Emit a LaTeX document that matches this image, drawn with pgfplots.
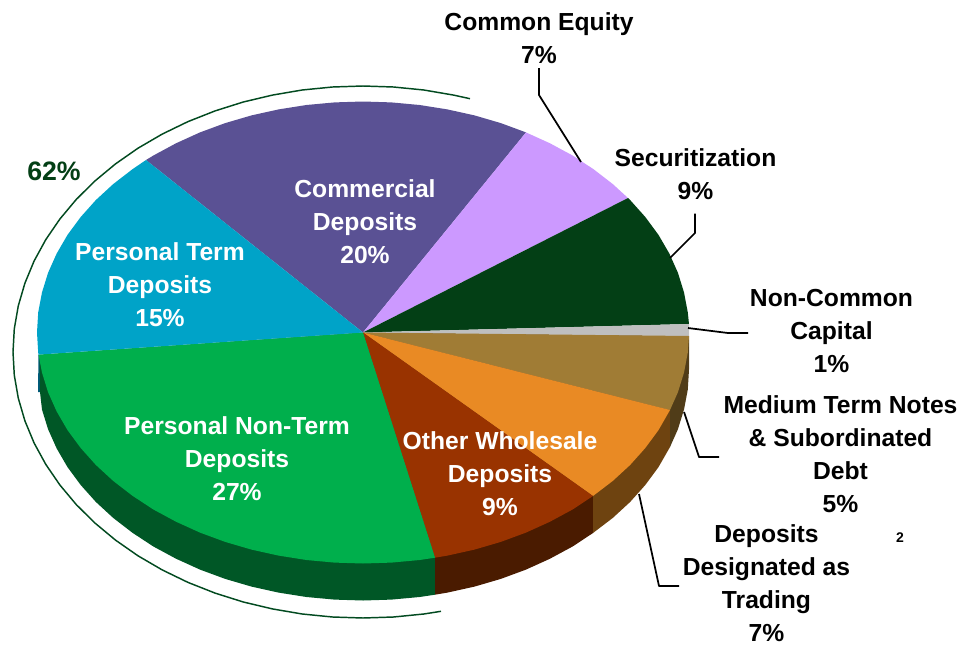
\documentclass[border=0pt]{standalone}
\usepackage{pgfplots}
\pgfplotsset{compat=1.18}
\usepackage{fontspec}
\setmainfont{Liberation Sans}
\definecolor{cPurple}{HTML}{5A5194}
\definecolor{cBlue}{HTML}{00A3C8}
\definecolor{cLav}{HTML}{CC99FF}
\definecolor{cDark}{HTML}{033F15}
\definecolor{cGray}{HTML}{BFBFBF}
\definecolor{cTan}{HTML}{A07C35}
\definecolor{cOrange}{HTML}{E98A24}
\definecolor{cRust}{HTML}{993300}
\definecolor{cGreen}{HTML}{00AF4C}
\definecolor{sGreen}{HTML}{005726}
\definecolor{sRust}{HTML}{4A1B00}
\definecolor{sOrange}{HTML}{6E4310}
\definecolor{sTan}{HTML}{503C18}
\definecolor{sBlue}{HTML}{005A7A}
\definecolor{cArc}{HTML}{024A20}
\tikzset{lab/.style={font=\fontsize{18.5}{24.75}\selectfont\bfseries, align=center, anchor=center, inner sep=0pt}}
\begin{document}
\begin{tikzpicture}
\begin{axis}[
  scale only axis, width=720pt, height=484.5pt,
  xmin=0, xmax=960, ymin=0, ymax=646, y dir=reverse,
  axis lines=none, clip=false, no markers,
  every axis plot/.append style={line join=round},
]
% --- invisible frame: keeps the page at the full 960x646 extent
\addplot[draw=none] coordinates {(0,0)(960,646)};
% --- side walls
\addplot[fill=sBlue, draw=none] coordinates {(38.5,354.6)(38,392)(40.5,392)(40.5,357)};
\addplot[fill=sGreen, draw=none] coordinates {(363,332.5)(39.5,355)(40,392)(42,409.6)(48.1,429.3)(56.7,448.5)(67.5,467.1)(80.7,485)(95.9,502)(113.3,518)(132.5,532.8)(153.4,546.5)(176,558.7)(200,569.6)(225.2,578.9)(251.5,586.6)(278.6,592.6)(306.4,597)(334.6,599.6)(363,600.5)(391.4,599.6)(419.6,597)(435,594.7)(435,557.7)};
\addplot[fill=sRust, draw=none] coordinates {(363,332.5)(435,557.7)(435,594.7)(447.4,592.6)(474.5,586.6)(500.8,578.9)(526,569.6)(550,558.7)(572.6,546.5)(593,533)(593,496)};
\addplot[fill=sOrange, draw=none] coordinates {(363,332.5)(593,496)(593,533)(612.7,518)(630.1,502)(645.3,485)(658.5,467.1)(670,447)(670,410)};
\addplot[fill=sTan, draw=none] coordinates {(363,332.5)(670,410)(670,447)(677.9,429.3)(684,409.6)(687.8,389.6)(689,369.5)(689,336)};
% --- top face
\addplot[fill=cPurple, draw=none] coordinates {(363,332.5)(146,160)(153.4,155.5)(176,143.3)(200,132.4)(225.2,123.1)(251.5,115.4)(278.6,109.4)(306.4,105)(334.6,102.4)(363,101.5)(391.4,102.4)(419.6,105)(447.4,109.4)(474.5,115.4)(500.8,123.1)(526,132.4)};
\addplot[fill=cLav, draw=none] coordinates {(363,332.5)(526,132.4)(550,143.3)(572.6,155.5)(593.5,169.2)(612.7,184)(628,198)};
\addplot[fill=cDark, draw=none] coordinates {(363,332.5)(628,198)(630.1,200)(645.3,217)(658.5,234.9)(669.3,253.5)(677.9,272.7)(684,292.4)(687.8,312.4)(689,324)};
\addplot[fill=cGray, draw=none] coordinates {(363,332.5)(689,324)(689,336)};
\addplot[fill=cTan, draw=none] coordinates {(363,332.5)(689,336)(687.8,352.6)(684,372.6)(677.9,392.3)(670,410)};
\addplot[fill=cOrange, draw=none] coordinates {(363,332.5)(670,410)(658.5,430.1)(645.3,448)(630.1,465)(612.7,481)(593,496)};
\addplot[fill=cRust, draw=none] coordinates {(363,332.5)(593,496)(572.6,509.5)(550,521.7)(526,532.6)(500.8,541.9)(474.5,549.6)(447.4,555.6)(435,557.7)};
\addplot[fill=cGreen, draw=none] coordinates {(363,332.5)(435,557.7)(419.6,560)(391.4,562.6)(363,563.5)(334.6,562.6)(306.4,560)(278.6,555.6)(251.5,549.6)(225.2,541.9)(200,532.6)(176,521.7)(153.4,509.5)(132.5,495.8)(113.3,481)(95.9,465)(80.7,448)(67.5,430.1)(56.7,411.5)(48.1,392.3)(42,372.6)(38.5,354.6)};
\addplot[fill=cBlue, draw=none] coordinates {(363,332.5)(38.5,354.6)(38.2,352.6)(37,332.5)(38.2,312.4)(42,292.4)(48.1,272.7)(56.7,253.5)(67.5,234.9)(80.7,217)(95.9,200)(113.3,184)(132.5,169.2)(146,160)};
% --- outer bracket
\addplot[cArc, line width=1.1pt] coordinates {(470,98.7)(453.6,95.1)(423.8,90)(393.5,87)(363,86)(332.5,87)(302.2,90)(272.4,95.1)(243.3,102)(215.1,110.9)(188,121.6)(162.2,134.1)(138,148.2)(115.5,163.9)(94.9,181)(76.3,199.4)(59.9,219)(45.8,239.6)(34.1,261)(24.9,283.2)(18.3,305.8)(14.3,328.8)(13,352)(14.3,375.2)(18.3,398.2)(24.9,420.8)(34.1,443)(45.8,464.4)(59.9,485)(76.3,504.6)(94.9,523)(115.5,540.1)(138,555.8)(162.2,569.9)(188,582.4)(215.1,593.1)(243.3,602)(272.4,608.9)(302.2,614)(332.5,617)(363,618)(393.5,617)(423.8,614)(441,611.3)};
% --- leader lines
\addplot[black, line width=1.3pt] coordinates {(539,68)(539,95)(581,162)};
\addplot[black, line width=1.3pt] coordinates {(695,213.5)(695,233)(670,258)};
\addplot[black, line width=1.3pt] coordinates {(688,328)(728,333)(748,333)};
\addplot[black, line width=1.3pt] coordinates {(684,412)(699,457)(719,457)};
\addplot[black, line width=1.3pt] coordinates {(639,494)(659,586)(679,586)};
% --- labels
\node[lab, text=white] at (axis cs:365,221.5) {Commercial\\Deposits\\20\%};
\node[lab, text=white] at (axis cs:160,284.5) {Personal Term\\Deposits\\15\%};
\node[lab, text=white] at (axis cs:237,459) {Personal Non-Term\\Deposits\\27\%};
\node[lab, text=white] at (axis cs:500,473.5) {Other Wholesale\\Deposits\\9\%};
\node[lab] at (axis cs:539,38) {Common Equity\\7\%};
\node[lab] at (axis cs:695.5,174.5) {Securitization\\9\%};
\node[lab] at (axis cs:831.5,330.5) {Non-Common\\Capital\\1\%};
\node[lab] at (axis cs:840.5,454) {Medium Term Notes\\\&\ Subordinated\\Debt\\5\%};
\node[lab] at (axis cs:766.5,583.5) {Deposits\\Designated as\\Trading\\7\%};
\node[font=\fontsize{10.5}{12}\selectfont\bfseries, anchor=center, inner sep=0pt] at (axis cs:900,538) {2};
\node[font=\fontsize{20}{22}\selectfont\bfseries, text=cDark, anchor=center, inner sep=0pt] at (axis cs:54,171) {62\%};
\end{axis}
\end{tikzpicture}
\end{document}
